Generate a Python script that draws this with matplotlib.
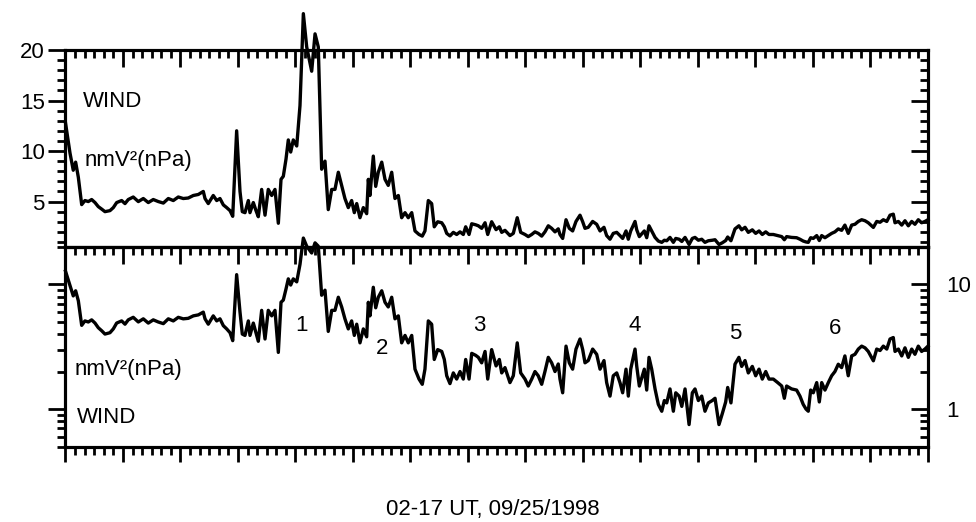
import matplotlib
matplotlib.use("Agg")
import matplotlib.pyplot as plt
from matplotlib.ticker import MultipleLocator, LogLocator, NullFormatter
import numpy as np

plt.rcParams['font.family'] = ['Liberation Sans', 'DejaVu Sans']
plt.rcParams['font.size'] = 16

# minutes after 02:00 UT and dynamic pressure nmV^2 (nPa)
minutes = [0, 4.7, 8.1, 10.6, 13.4, 16.9, 20.3, 23.8, 27.3, 30.8, 34.2, 37.8, 41.2, 46.4, 49.9, 53.4, 58.6,
           62.1, 65.5, 70.7, 76.0, 81.2, 86.4, 91.6, 96.8, 102.1, 107.3, 112.5, 117.7,
           122.9, 128.1, 133.4, 138.6, 143.8, 145.6, 149.0, 154.2, 157.8, 161.2, 164.7, 168.2, 171.7, 174.5, 178.6,
           182.1, 184.5, 187.3, 190.8, 192.5, 196.0, 198.8, 201.2, 204.7, 208.2, 211.6, 215.2, 218.6, 222.1, 224.9, 227.3, 230.1, 232.5, 235.0, 237.7,
           241.3, 244.7, 248.2, 251.7, 256.9, 260.4, 263.8, 267.3, 270.8, 274.2, 277.8, 281.2, 284.7, 288.2, 291.6, 295.1, 298.6,
           301.4, 303.9, 307.3, 310.8, 314.3, 316.0, 317.7, 321.2, 323.7, 326.4, 330.0, 333.4, 336.8, 340.4, 343.8, 347.3, 350.8, 354.3, 357.7,
           361.3, 364.7, 368.9, 372.3, 375.1, 378.6, 382.1, 384.8, 388.4, 392.6, 395.3, 397.8, 401.2, 404.7, 408.2, 411.7, 415.1, 417.6,
           421.1, 423.9, 428.0, 430.8, 434.3, 437.8, 440.6, 444.7, 449.3, 452.7, 455.2, 458.6, 463.8, 467.3, 471.4, 475.0, 479.5,
           482.9, 486.5, 489.9, 493.3, 496.9, 500.3, 503.8, 507.3, 510.8, 514.2, 516.0, 518.8, 522.3, 525.7, 529.2, 532.7, 536.9, 539.7,
           542.1, 545.5, 550.1, 554.3, 557.8, 561.9, 564.7, 568.2, 571.6, 575.2, 578.6, 581.4, 584.9, 587.3, 589.8, 594.3, 596.1, 598.8,
           604.0, 606.5, 608.9, 611.7, 615.2, 618.6, 622.2, 624.9, 627.4, 630.8, 634.3, 636.8, 640.3, 643.1, 646.5, 650.7, 654.1, 656.9,
           660.4, 663.9, 667.3, 670.8, 674.9, 677.8, 681.9, 685.4, 688.9, 691.0, 694.4, 698.6, 702.7, 705.6, 709.1, 712.5, 716.7,
           720.2, 723.7, 727.1, 730.7, 734.1, 738.6, 743.2, 747.4, 750.1, 752.5, 757.7, 762.9, 766.4, 769.8, 772.7, 775.1, 777.6,
           780.3, 783.9, 786.6, 789.1, 792.5, 796.0, 799.5, 802.9, 806.4, 809.9, 813.3, 816.8, 820.4, 823.8, 827.3, 830.8, 834.3, 837.7,
           843.0, 846.5, 850.0, 853.4, 857.0, 860.4, 863.8, 865.6, 869.1, 872.6, 876.0, 879.5, 883.0, 886.4, 889.9, 893.4, 896.8, 900.0]

pressure = [12.8, 9.8, 8.1, 8.9, 7.4, 4.7, 5.1, 5.0, 5.2, 4.9, 4.5, 4.25, 4.0, 4.1, 4.4, 4.9, 5.1,
            4.8, 5.2, 5.45, 5.0, 5.3, 4.9, 5.2, 5.0, 4.85, 5.3, 5.1, 5.45,
            5.3, 5.35, 5.6, 5.7, 6.0, 5.3, 4.8, 5.6, 5.1, 5.3, 4.67, 4.4, 4.1, 3.54, 12.0,
            6.0, 4.0, 3.9, 5.1, 3.9, 4.9, 4.1, 3.5, 6.2, 3.65, 6.2, 5.6, 6.2, 2.85, 7.2, 7.5, 9.2, 11.1, 9.9, 11.1,
            10.5, 14.5, 23.6, 20.3, 17.9, 21.6, 20.3, 8.2, 9.0, 4.2, 6.2, 6.2, 7.9, 6.6, 5.3, 4.4, 5.1,
            3.9, 4.8, 3.4, 4.4, 3.8, 7.2, 5.6, 9.5, 6.5, 7.9, 8.9, 7.2, 6.6, 7.9, 5.3, 5.6, 3.4, 3.9, 3.4,
            3.9, 2.09, 1.74, 1.58, 2.09, 5.1, 4.8, 2.5, 3.0, 2.9, 2.5, 1.85, 1.6, 1.95, 1.74, 2.0, 1.74, 2.5,
            1.74, 2.8, 2.7, 2.6, 2.35, 2.9, 1.74, 3.0, 2.22, 2.5, 1.95, 2.15, 1.63, 1.85, 3.4, 1.95, 1.74,
            1.53, 1.74, 2.0, 1.85, 1.58, 2.0, 2.6, 2.35, 2.0, 2.3, 1.74, 1.35, 3.2, 2.35, 2.09, 3.03, 3.65, 3.0,
            2.35, 2.45, 3.03, 2.75, 2.09, 2.45, 1.63, 1.27, 1.85, 1.95, 1.63, 1.35, 2.09, 1.27, 2.09, 3.03, 2.2, 1.53,
            2.09, 1.42, 2.6, 2.09, 1.45, 1.09, 0.96, 1.17, 1.12, 1.45, 0.96, 1.35, 1.27, 1.05, 1.45, 0.75, 1.35, 1.45,
            1.17, 1.27, 0.96, 1.12, 1.17, 1.22, 0.75, 0.92, 1.14, 1.49, 1.12, 2.29, 2.6, 2.2, 2.45, 1.95, 2.2,
            1.85, 2.09, 1.74, 2.0, 1.74, 1.74, 1.63, 1.53, 1.22, 1.53, 1.45, 1.42, 1.27, 1.09, 1.0, 0.96, 1.42,
            1.35, 1.63, 1.14, 1.63, 1.42, 1.63, 1.85, 2.0, 2.29, 2.15, 2.67, 1.85, 2.67, 2.75, 3.03, 3.2, 3.1, 2.9,
            2.44, 3.03, 2.95, 3.2, 3.03, 3.65, 3.75, 2.9, 3.03, 2.67, 3.1, 2.6, 3.03, 2.75, 3.2, 2.9, 3.03, 3.2]

# event labels in the lower panel (UT hour, value at text baseline)
event_names = ['1', '2', '3', '4', '5', '6']
event_ut = [6.11, 7.50, 9.19, 11.90, 13.64, 15.38]
event_val = [4.26, 2.78, 4.26, 4.26, 3.67, 4.03]

ut = 2 + np.array(minutes) / 60.0
p = np.array(pressure)

fig = plt.figure(figsize=(9.76, 5.22), dpi=100)
left, width = 0.0671, 0.8837
ax1 = fig.add_axes([left, 0.5268, width, 0.3774])
ax2 = fig.add_axes([left, 0.1446, width, 0.3822])

LW = 2.4
for ax in (ax1, ax2):
    ax.plot(ut, p, color='black', lw=LW, clip_on=False)
    ax.set_xlim(2, 17)
    ax.xaxis.set_major_locator(MultipleLocator(1))
    ax.xaxis.set_minor_locator(MultipleLocator(1 / 6))
    ax.xaxis.set_major_formatter(NullFormatter())
    for s in ax.spines.values():
        s.set_linewidth(2.2)

# upper panel, linear
ax1.set_ylim(0.5, 20)
ax1.set_yticks([5, 10, 15, 20])
ax1.yaxis.set_minor_locator(MultipleLocator(1))
ax1.tick_params(axis='x', which='both', bottom=False, top=False)
ax1.tick_params(axis='y', which='both', left=True, right=False, direction='out', width=2)
ax1.tick_params(axis='y', which='major', length=12, pad=3)
ax1.tick_params(axis='y', which='minor', length=6)

# lower panel, log
ax2.set_yscale('log')
ax2.set_ylim(0.5, 20)
ax2.yaxis.set_major_locator(LogLocator(base=10))
ax2.yaxis.set_minor_locator(LogLocator(base=10, subs=np.arange(2, 10)))
ax2.yaxis.set_major_formatter(NullFormatter())
ax2.yaxis.set_minor_formatter(NullFormatter())
ax2.tick_params(axis='x', which='both', bottom=True, top=False, direction='out', width=2)
ax2.tick_params(axis='x', which='major', length=11)
ax2.tick_params(axis='x', which='minor', length=6)
ax2.tick_params(axis='y', which='both', left=True, right=False, direction='out', width=2)
ax2.tick_params(axis='y', which='major', length=12)
ax2.tick_params(axis='y', which='minor', length=6)

# inward ticks on the top and right sides
for ax in (ax1, ax2):
    axt = ax.twiny()
    axt.set_xlim(2, 17)
    axt.xaxis.set_major_locator(MultipleLocator(1))
    axt.xaxis.set_minor_locator(MultipleLocator(1 / 6))
    axt.xaxis.set_major_formatter(NullFormatter())
    axt.tick_params(axis='x', which='both', top=True, bottom=False, direction='in', width=2)
    axt.tick_params(axis='x', which='major', length=12)
    axt.tick_params(axis='x', which='minor', length=6)
    axt.yaxis.set_visible(False)
    for s in axt.spines.values():
        s.set_linewidth(2.2)

axr1 = ax1.twinx()
axr1.set_ylim(0.5, 20)
axr1.set_yticks([5, 10, 15, 20])
axr1.yaxis.set_minor_locator(MultipleLocator(1))
axr1.yaxis.set_major_formatter(NullFormatter())
axr1.tick_params(axis='y', which='both', right=True, left=False, direction='in', width=2)
axr1.tick_params(axis='y', which='major', length=12)
axr1.tick_params(axis='y', which='minor', length=6)
axr1.xaxis.set_visible(False)

axr2 = ax2.twinx()
axr2.set_yscale('log')
axr2.set_ylim(0.5, 20)
axr2.set_yticks([1, 10], ['1', '10'])
axr2.yaxis.set_minor_locator(LogLocator(base=10, subs=np.arange(2, 10)))
axr2.yaxis.set_minor_formatter(NullFormatter())
axr2.tick_params(axis='y', which='both', right=True, left=False, direction='in', width=2)
axr2.tick_params(axis='y', which='major', length=12, pad=13.5)
axr2.tick_params(axis='y', which='minor', length=6)
axr2.xaxis.set_visible(False)
for a in (axr1, axr2):
    for s in a.spines.values():
        s.set_linewidth(2.2)

# panel labels
ax1.text(0.0203, 0.711, 'WIND', transform=ax1.transAxes, va='baseline')
ax1.text(0.0226, 0.411, 'nmV\u00b2(nPa)', transform=ax1.transAxes, va='baseline')
ax2.text(0.011, 0.358, 'nmV\u00b2(nPa)', transform=ax2.transAxes, va='baseline')
ax2.text(0.0133, 0.118, 'WIND', transform=ax2.transAxes, va='baseline')
for name, xu, yv in zip(event_names, event_ut, event_val):
    ax2.text(xu, yv, name, ha='center', va='baseline')

fig.text(493 / 976, 1 - 510 / 522, '02-17 UT, 09/25/1998', ha='center', va='center')

fig.savefig('out.png', dpi=100)
